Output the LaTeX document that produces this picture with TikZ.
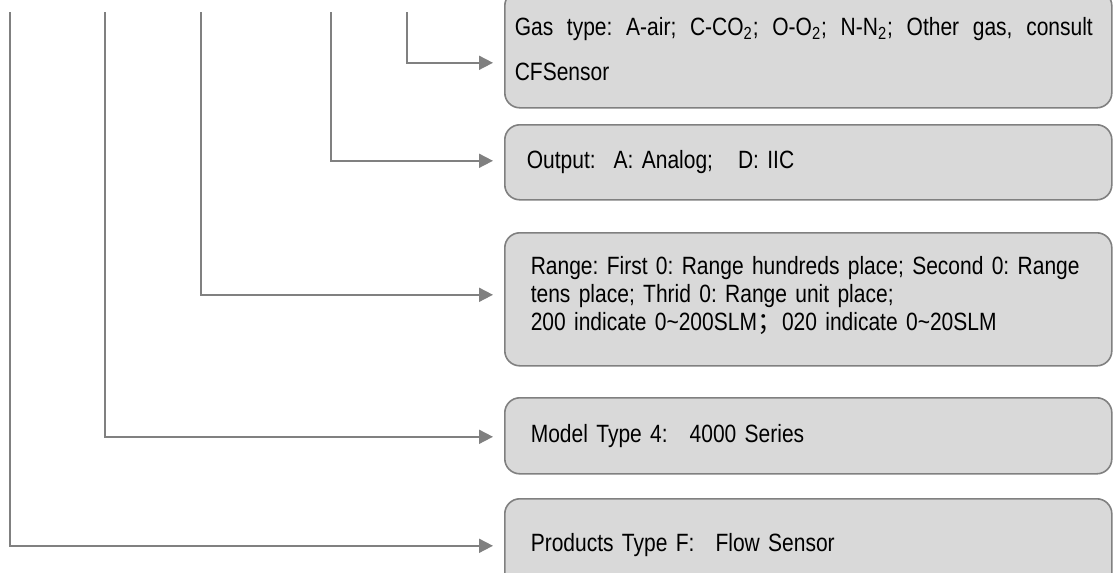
\documentclass[tikz,border=0pt]{standalone}
\usepackage{fontspec}
\setmainfont{Liberation Sans}[FakeStretch=0.84]
\newfontfamily\cjk{Noto Sans CJK SC}
\usetikzlibrary{arrows.meta,calc}
\definecolor{boxgray}{HTML}{D9D9D9}
\definecolor{linegray}{HTML}{808080}
\frenchspacing
\begin{document}
\begin{tikzpicture}[x=0.5pt, y=-0.5pt]
    \tikzstyle{infobox} = [draw=linegray, line width=0.8pt, fill=boxgray, rectangle, rounded corners=7.5pt, anchor=north west, minimum width=303.5pt, inner xsep=13pt, text width=277.5pt, align=left, font=\fontsize{12.5}{14}\selectfont]
    \tikzstyle{link} = [draw=linegray, line width=0.9pt, -{Triangle[length=7pt,width=7pt]}, shorten >=5.5pt]

    \useasboundingbox (0,0) rectangle (1114,573);

    \node[infobox, minimum height=58.5pt, inner xsep=5pt, text width=293.5pt] (gas) at (504,-10) {\hbox to 289pt{\spaceskip=0.28em plus 1fil Gas type: A-air; C-CO\textsubscript{2}; O-O\textsubscript{2}; N-N\textsubscript{2}; Other gas, consult}\\[8.5pt]CFSensor};
    \node[infobox, minimum height=37.5pt, inner xsep=11pt, text width=281.5pt] (output) at (504,124) {Output:\hspace{9pt}A: Analog;\hspace{12.5pt}D: IIC};
    \node[infobox, minimum height=66.5pt] (range) at (504,232) {Range: First 0: Range hundreds place; Second 0: Range\\tens place; Thrid 0: Range unit place;\\200 indicate 0\textasciitilde200SLM{\cjk ；}020 indicate 0\textasciitilde20SLM\\[-8pt]\mbox{}};
    \node[infobox, minimum height=38pt] (model) at (504,397) {Model Type 4:\hspace{11pt}4000 Series};
    \node[infobox, minimum height=46pt] (products) at (504,498) {Products Type F:\hspace{10.5pt}Flow Sensor};

    \coordinate (gasTop) at (407,12);
    \coordinate (outputTop) at (331,12);
    \coordinate (rangeTop) at (201,12);
    \coordinate (modelTop) at (105,12);
    \coordinate (productsTop) at (10,12);

    \draw[link] (gasTop) |- ($(gas.west)+(0,13.5)$);
    \draw[link] (outputTop) |- ($(output.west)+(0,-1.5)$);
    \draw[link] (rangeTop) |- ($(range.west)+(0,-4.5)$);
    \draw[link] (modelTop) |- ($(model.west)+(0,1)$);
    \draw[link] (productsTop) |- ($(products.west)+(0,1)$);
\end{tikzpicture}
\end{document}
